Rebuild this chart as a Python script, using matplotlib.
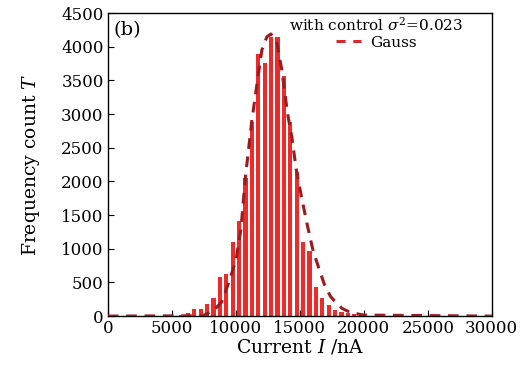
import numpy as np
import matplotlib
matplotlib.use("Agg")
import matplotlib.pyplot as plt

plt.rcParams['font.family'] = 'DejaVu Serif'
plt.rcParams['mathtext.fontset'] = 'dejavuserif'

# histogram bins (centre of each 500 nA bin) and counts
bin_centers = [5750, 6250, 6750, 7250, 7750, 8250, 8750, 9250, 9750, 10250,
               10750, 11250, 11750, 12250, 12750, 13250, 13750, 14250, 14750,
               15250, 15750, 16250, 16750, 17250, 17750, 18250, 18750, 19250,
               19750]
counts = [20, 50, 100, 110, 180, 270, 575, 620, 1100, 1410,
          2045, 2880, 3900, 3755, 4150, 4145, 3570, 2880, 2140,
          1100, 970, 435, 265, 170, 90, 64, 40, 30, 20]

# Gauss fit curve
gauss_x = [0, 7400, 8250, 8900, 9420, 10000, 10400, 10750, 11250, 11640,
           12030, 12430, 12740, 13210, 13600, 14040, 14380, 14700, 15100,
           15550, 16000, 16400, 16900, 17400, 17650, 18300, 19000, 20000,
           30000]
gauss_y = [0, 5, 80, 210, 485, 820, 1290, 2070, 2900, 3430,
           3950, 4150, 4190, 4050, 3650, 3010, 2660, 2200, 1800,
           1380, 1000, 760, 480, 290, 238, 114, 50, 15,
           0]

fig = plt.figure(figsize=(5.26, 3.65), dpi=100)
ax = fig.add_axes([0.205, 0.134, 0.73, 0.83])

ax.bar(bin_centers, counts, width=330, color='#ee2a2a', edgecolor='none',
       zorder=2)
ax.plot(gauss_x, gauss_y, color='#9b1c20', lw=2.2, linestyle=(0, (3.5, 2.5)),
        zorder=3)

# legend entry uses the brighter red dash seen in the picture
ax.plot([], [], color='#d42a2a', lw=2.2, linestyle=(0, (3, 2.5)), label='Gauss')
leg = ax.legend(title=r'with control $\sigma^2$=0.023', loc='upper right',
                bbox_to_anchor=(0.95, 1.02), frameon=False, fontsize=11,
                title_fontsize=11, handlelength=1.6, handletextpad=0.6,
                borderaxespad=0.2, labelspacing=0.1)

ax.text(0.015, 0.975, '(b)', transform=ax.transAxes, ha='left', va='top',
        fontsize=14)

ax.set_xlim(0, 30000)
ax.set_ylim(0, 4500)
ax.set_xticks(np.arange(0, 30001, 5000))
ax.set_yticks(np.arange(0, 4501, 500))
ax.tick_params(direction='in', length=4, labelsize=12, pad=3)
ax.set_xlabel(r'Current $I$ /nA', fontsize=13.5, labelpad=0)
ax.set_ylabel(r'Frequency count $T$', fontsize=13.5, labelpad=14)

for s in ax.spines.values():
    s.set_linewidth(1.0)

fig.savefig('out.png', dpi=100)
